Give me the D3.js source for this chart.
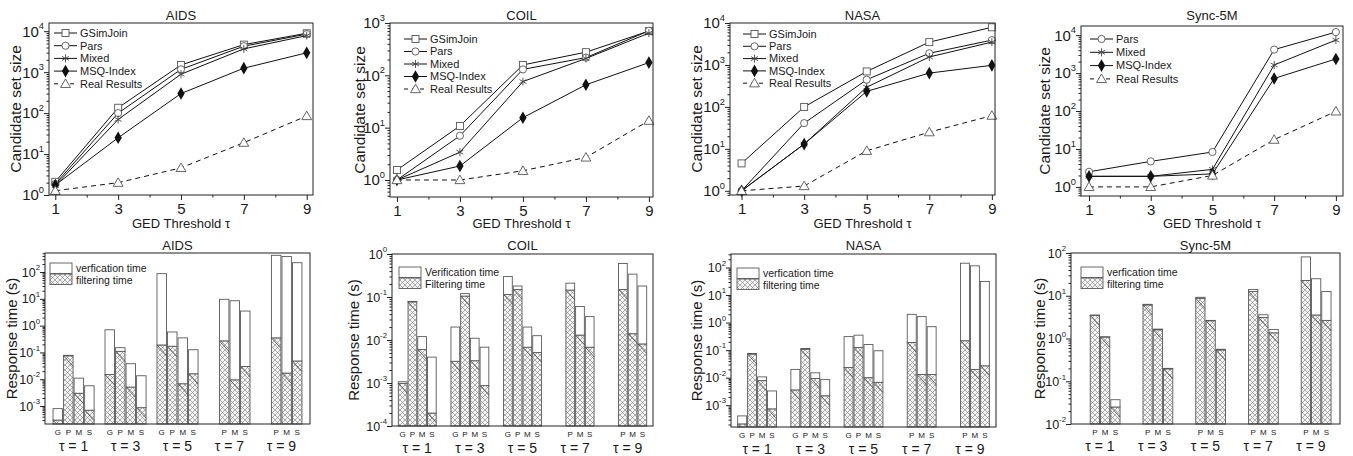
<!DOCTYPE html>
<html>
<head>
<meta charset="utf-8">
<script src="https://cdn.jsdelivr.net/npm/d3@7"></script>
<style>
  body { margin: 0; background: #fff; }
  svg { font-family: "Liberation Sans", Arial, sans-serif; fill: #1a1a1a; }
</style>
</head>
<body>
<svg id="chart" width="1353" height="456"></svg>
<script>
// thresholds and methods
const taus = [1, 3, 5, 7, 9];
const methods = ["G", "P", "M", "S"];
const lineSeries = ["GSimJoin", "Pars", "Mixed", "MSQ-Index", "Real Results"];

// candidate set size (top row)
const aidsCand = {
  "GSimJoin": [2.1, 135, 1500, 4700, 8900],
  "Pars": [1.85, 100, 1170, 4300, 8500],
  "Mixed": [1.7, 70, 890, 3700, 7800],
  "MSQ-Index": [1.75, 25, 300, 1250, 2960],
  "Real Results": [1.27, 2.0, 4.6, 19, 85]
};
const coilCand = {
  "GSimJoin": [1.55, 10.8, 158, 277, 700],
  "Pars": [1.0, 7.0, 130, 218, 710],
  "Mixed": [1.0, 3.4, 76, 210, 640],
  "MSQ-Index": [1.0, 1.85, 15.5, 66, 175],
  "Real Results": [1.0, 1.0, 1.5, 2.7, 13.6]
};
const nasaCand = {
  "GSimJoin": [4.5, 100, 700, 3500, 7900],
  "Pars": [1.0, 41, 445, 1900, 3900],
  "Mixed": [1.0, 13, 295, 1550, 3500],
  "MSQ-Index": [1.0, 13, 235, 640, 980],
  "Real Results": [1.0, 1.3, 9, 25, 62]
};
const syncCand = {
  "Pars": [2.5, 4.7, 8.3, 4150, 12000],
  "Mixed": [1.9, 1.9, 2.9, 1630, 7400],
  "MSQ-Index": [1.9, 1.9, 2.2, 720, 2350],
  "Real Results": [1.0, 1.0, 2.0, 17.6, 98]
};

// response time (bottom row): total time and filtering time, seconds
const aidsTotal = {
  G: [8e-4, 0.7, 87, null, null],
  P: [0.078, 0.15, 0.58, 9.6, 420],
  M: [0.011, 0.038, 0.35, 8.5, 380],
  S: [0.0057, 0.0135, 0.126, 3.5, 223]
};
const aidsFilter = {
  G: [3e-4, 0.015, 0.19, null, null],
  P: [0.075, 0.11, 0.17, 0.27, 0.35],
  M: [0.003, 0.0051, 0.0068, 0.0095, 0.017],
  S: [7e-4, 8.7e-4, 0.016, 0.03, 0.048]
};
const coilTotal = {
  G: [1.07e-3, 0.02, 0.3, null, null],
  P: [0.079, 0.12, 0.18, 0.21, 0.6],
  M: [0.012, 0.011, 0.02, 0.06, 0.34],
  S: [0.004, 0.0068, 0.0126, 0.035, 0.18]
};
const coilFilter = {
  G: [9.8e-4, 0.0032, 0.115, null, null],
  P: [0.077, 0.105, 0.15, 0.145, 0.15],
  M: [0.006, 0.0033, 0.0068, 0.013, 0.014],
  S: [2e-4, 8.7e-4, 0.0051, 0.0068, 0.0081]
};
const nasaTotal = {
  G: [4.1e-4, 0.02, 0.31, null, null],
  P: [0.076, 0.115, 0.35, 2.0, 143],
  M: [0.0107, 0.015, 0.16, 1.65, 115],
  S: [0.0033, 0.0085, 0.095, 0.71, 31]
};
const nasaFilter = {
  G: [2.1e-4, 0.0036, 0.0235, null, null],
  P: [0.072, 0.107, 0.126, 0.19, 0.22],
  M: [0.0078, 0.0094, 0.01, 0.013, 0.02],
  S: [7.4e-4, 0.0022, 0.0068, 0.013, 0.027]
};
const syncTotal = {
  G: [null, null, null, null, null],
  P: [3.55, 6.3, 9.2, 14, 81],
  M: [1.1, 1.66, 2.65, 3.6, 25],
  S: [0.037, 0.2, 0.56, 1.63, 12.6]
};
const syncFilter = {
  G: [null, null, null, null, null],
  P: [3.45, 6.1, 8.7, 12.6, 22.8],
  M: [1.08, 1.6, 2.6, 3.1, 3.55],
  S: [0.025, 0.195, 0.54, 1.36, 2.65]
};

const svg = d3.select("#chart");

// hatch for filtering time
const defs = svg.append("defs");
const pat = defs.append("pattern")
  .attr("id", "hatch")
  .attr("patternUnits", "userSpaceOnUse")
  .attr("width", 5).attr("height", 5);
pat.append("rect").attr("width", 5).attr("height", 5).attr("fill", "#f4f4f4");
pat.append("path")
  .attr("d", "M0,0L5,5M5,0L0,5M-1,1L1,-1M4,6L6,4M-1,4L1,6M4,-1L6,1")
  .attr("stroke", "#7a7a7a").attr("stroke-width", 0.6);

function powLabel(g, x, y, exp, size) {
  const t = g.append("text")
    .attr("x", x).attr("y", y + size * 0.36)
    .attr("text-anchor", "end")
    .attr("font-size", size);
  t.append("tspan").text("10");
  t.append("tspan").attr("dy", -size * 0.5).attr("font-size", size * 0.62).text(exp);
}

function logAxis(g, y, left, size) {
  const [d0, d1] = y.domain();
  const e0 = Math.ceil(Math.log10(d0) - 1e-9), e1 = Math.floor(Math.log10(d1) + 1e-9);
  const majors = d3.range(e0, e1 + 1).map(e => Math.pow(10, e));
  const minors = [];
  for (let e = e0 - 1; e <= e1; e++) {
    for (let k = 2; k < 10; k++) {
      const v = k * Math.pow(10, e);
      if (v > d0 && v < d1) minors.push(v);
    }
  }
  g.append("g").attr("transform", `translate(${left},0)`)
    .call(d3.axisLeft(y).tickValues(majors).tickSize(5).tickFormat(""))
    .call(a => a.select(".domain").remove());
  g.append("g").attr("transform", `translate(${left},0)`)
    .call(d3.axisLeft(y).tickValues(minors).tickSize(2.5).tickFormat(""))
    .call(a => a.select(".domain").remove());
  g.selectAll(".tick line").attr("stroke", "#222");
  d3.range(e0, e1 + 1).forEach(e => powLabel(g, left - 5, y(Math.pow(10, e)), String(e), size));
}

function marker(g, name, cx, cy) {
  if (name === "GSimJoin") {
    g.append("rect").attr("x", cx - 3.5).attr("y", cy - 3.5).attr("width", 7).attr("height", 7)
      .attr("fill", "#fff").attr("stroke", "#555").attr("stroke-width", 0.9);
  } else if (name === "Pars") {
    g.append("circle").attr("cx", cx).attr("cy", cy).attr("r", 3.6)
      .attr("fill", "#fff").attr("stroke", "#555").attr("stroke-width", 0.9);
  } else if (name === "Mixed") {
    const r = 4;
    const p = [90, 30, 150].map(a => {
      const dx = r * Math.cos(a * Math.PI / 180), dy = r * Math.sin(a * Math.PI / 180);
      return `M${cx - dx},${cy - dy}L${cx + dx},${cy + dy}`;
    }).join("");
    g.append("path").attr("d", p).attr("stroke", "#444").attr("stroke-width", 0.9).attr("fill", "none");
  } else if (name === "MSQ-Index") {
    g.append("path").attr("transform", `translate(${cx},${cy})`)
      .attr("d", d3.symbol(d3.symbolDiamond, 46)()).attr("fill", "#111");
  } else {
    g.append("path").attr("transform", `translate(${cx},${cy + 0.8})`)
      .attr("d", d3.symbol(d3.symbolTriangle, 42)())
      .attr("fill", "#fff").attr("stroke", "#555").attr("stroke-width", 0.9);
  }
}

function linePanel(c) {
  const g = svg.append("g");
  const x = d3.scaleLinear().domain(c.xDom).range([c.left, c.right]);
  const y = d3.scaleLog().domain(c.yDom).range([c.bottom, c.top]);

  g.append("text").attr("x", (c.left + c.right) / 2).attr("y", 20)
    .attr("text-anchor", "middle").attr("font-size", 13).text(c.title);

  // x axis
  g.append("g").attr("transform", `translate(0,${c.bottom})`)
    .call(d3.axisBottom(x).tickValues(taus).tickSize(5).tickPadding(3).tickFormat(d3.format("d")))
    .call(a => a.select(".domain").remove())
    .call(a => a.selectAll("text").attr("font-size", 15).attr("fill", "#1a1a1a").attr("font-family", null));
  g.append("g").attr("transform", `translate(0,${c.bottom})`)
    .call(d3.axisBottom(x).tickValues([2, 4, 6, 8]).tickSize(2.5).tickFormat(""))
    .call(a => a.select(".domain").remove());
  logAxis(g, y, c.left, 15);

  g.append("text").attr("x", (c.left + c.right) / 2).attr("y", 228)
    .attr("text-anchor", "middle").attr("font-size", 13).text("GED Threshold τ");
  g.append("text").attr("transform", `translate(${c.ylabX},${(c.top + c.bottom) / 2}) rotate(-90)`)
    .attr("text-anchor", "middle").attr("dy", "0.35em").attr("font-size", 15.5).text("Candidate set size");

  const line = d3.line().x((d, i) => x(taus[i])).y(d => y(d));
  c.series.forEach(s => {
    g.append("path").datum(c.data[s]).attr("d", line)
      .attr("fill", "none").attr("stroke", "#111").attr("stroke-width", 1)
      .attr("stroke-dasharray", s === "Real Results" ? "5,4" : null);
    c.data[s].forEach((v, i) => marker(g, s, x(taus[i]), y(v)));
  });

  // legend
  c.series.forEach((s, i) => {
    const ly = c.leg.y + i * c.leg.dy;
    g.append("line").attr("x1", c.leg.x).attr("x2", c.leg.x + 23).attr("y1", ly).attr("y2", ly)
      .attr("stroke", "#111").attr("stroke-width", 1)
      .attr("stroke-dasharray", s === "Real Results" ? "4,4" : null);
    marker(g, s, c.leg.x + 11.5, ly);
    g.append("text").attr("x", c.leg.x + 26).attr("y", ly).attr("dy", "0.35em")
      .attr("font-size", 11).text(s);
  });

  g.append("rect").attr("x", c.left).attr("y", c.top)
    .attr("width", c.right - c.left).attr("height", c.bottom - c.top)
    .attr("fill", "none").attr("stroke", "#222").attr("stroke-width", 1);
}

function barPanel(c) {
  const g = svg.append("g");
  const outer = d3.scaleBand().domain(taus).range([c.left, c.right])
    .paddingInner(c.pi).paddingOuter(c.po);
  const inner = d3.scaleBand().domain(methods).range([0, outer.bandwidth()]).paddingInner(0.1);
  const y = d3.scaleLog().domain(c.yDom).range([c.bottom, c.top]);
  const base = c.bottom;

  g.append("text").attr("x", (c.left + c.right) / 2).attr("y", 250)
    .attr("text-anchor", "middle").attr("font-size", 13).text(c.title);

  taus.forEach((t, i) => {
    const present = methods.filter(m => c.total[m][i] != null);
    present.forEach(m => {
      const bx = outer(t) + inner(m), bw = inner.bandwidth();
      const yt = y(c.total[m][i]), yf = y(c.filter[m][i]);
      g.append("rect").attr("x", bx).attr("y", yf).attr("width", bw).attr("height", base - yf)
        .attr("fill", "url(#hatch)").attr("stroke", "#5a5a5a").attr("stroke-width", 0.9);
      const dl = Math.min(bw * 1.1, base - yf);
      g.append("line").attr("x1", bx).attr("y1", yf).attr("x2", bx + dl / 1.1).attr("y2", yf + dl)
        .attr("stroke", "#333").attr("stroke-width", 0.7);
      if (yf - yt > 0.3) {
        g.append("rect").attr("x", bx).attr("y", yt).attr("width", bw).attr("height", yf - yt)
          .attr("fill", "#fff").attr("stroke", "#5a5a5a").attr("stroke-width", 0.9);
      }
      g.append("text").attr("x", bx + bw / 2).attr("y", base + 11)
        .attr("text-anchor", "middle").attr("font-size", 8).text(m);
    });
    g.append("text").attr("x", outer(t) + outer.bandwidth() / 2).attr("y", base + 27)
      .attr("text-anchor", "middle").attr("font-size", 14).text(`τ = ${t}`);
  });

  logAxis(g, y, c.left, 12.5);
  g.append("text").attr("transform", `translate(${c.ylabX},${(c.top + c.bottom) / 2}) rotate(-90)`)
    .attr("text-anchor", "middle").attr("dy", "0.35em").attr("font-size", 15).text("Response time (s)");

  // legend
  const lx = c.leg.x, ly = c.leg.y;
  g.append("rect").attr("x", lx).attr("y", ly).attr("width", 22).attr("height", 10.5)
    .attr("fill", "#fff").attr("stroke", "#5a5a5a").attr("stroke-width", 0.9);
  g.append("rect").attr("x", lx).attr("y", ly + 11).attr("width", 22).attr("height", 10.5)
    .attr("fill", "url(#hatch)").attr("stroke", "#5a5a5a").attr("stroke-width", 0.9);
  c.legText.forEach((s, i) => {
    g.append("text").attr("x", lx + 26).attr("y", ly + 5.5 + i * 12).attr("dy", "0.35em")
      .attr("font-size", 10.5).text(s);
  });

  g.append("rect").attr("x", c.left).attr("y", c.top)
    .attr("width", c.right - c.left).attr("height", c.bottom - c.top)
    .attr("fill", "none").attr("stroke", "#222").attr("stroke-width", 1);
}

const topPanels = [
  { title: "AIDS", data: aidsCand, series: lineSeries, left: 49, right: 313, top: 23, bottom: 195,
    xDom: [0.8, 9.2], yDom: [1, Math.pow(10, 4.2)], ylabX: 16, leg: { x: 54, y: 33, dy: 12.7 } },
  { title: "COIL", data: coilCand, series: lineSeries, left: 390, right: 653, top: 23, bottom: 197,
    xDom: [0.78, 9.13], yDom: [Math.pow(10, -0.325), 1000], ylabX: 360, leg: { x: 404, y: 39, dy: 12.5 } },
  { title: "NASA", data: nasaCand, series: lineSeries, left: 730, right: 995, top: 23, bottom: 195,
    xDom: [0.63, 9.1], yDom: [Math.pow(10, -0.1), 1e4], ylabX: 697, leg: { x: 743, y: 34, dy: 12.3 } },
  { title: "Sync-5M", data: syncCand, series: lineSeries.slice(1), left: 1081, right: 1343, top: 26, bottom: 196,
    xDom: [0.74, 9.23], yDom: [Math.pow(10, -0.24), Math.pow(10, 4.24)], ylabX: 1045, leg: { x: 1090, y: 39, dy: 13.3 } }
];
const lowerText = ["verfication time", "filtering time"];
const bottomPanels = [
  { title: "AIDS", total: aidsTotal, filter: aidsFilter, left: 45, right: 310, top: 253, bottom: 424,
    yDom: [Math.pow(10, -3.67), Math.pow(10, 2.71)], ylabX: 12, leg: { x: 50, y: 263 }, legText: lowerText, pi: 0.21, po: 0.155 },
  { title: "COIL", total: coilTotal, filter: coilFilter, left: 392, right: 653, top: 254, bottom: 426,
    yDom: [1e-4, 1], ylabX: 354, leg: { x: 399, y: 267 }, legText: ["Verification time", "Filtering time"], pi: 0.28, po: 0.12 },
  { title: "NASA", total: nasaTotal, filter: nasaFilter, left: 731, right: 996, top: 254, bottom: 427,
    yDom: [Math.pow(10, -3.79), Math.pow(10, 2.49)], ylabX: 697, leg: { x: 737, y: 268 }, legText: lowerText, pi: 0.27, po: 0.125 },
  { title: "Sync-5M", total: syncTotal, filter: syncFilter, left: 1071, right: 1340, top: 253, bottom: 424,
    yDom: [1e-2, 1e2], ylabX: 1040, leg: { x: 1081, y: 267 }, legText: lowerText, pi: 0.24, po: 0.17 }
];

topPanels.forEach(linePanel);
bottomPanels.forEach(barPanel);
</script>
</body>
</html>
